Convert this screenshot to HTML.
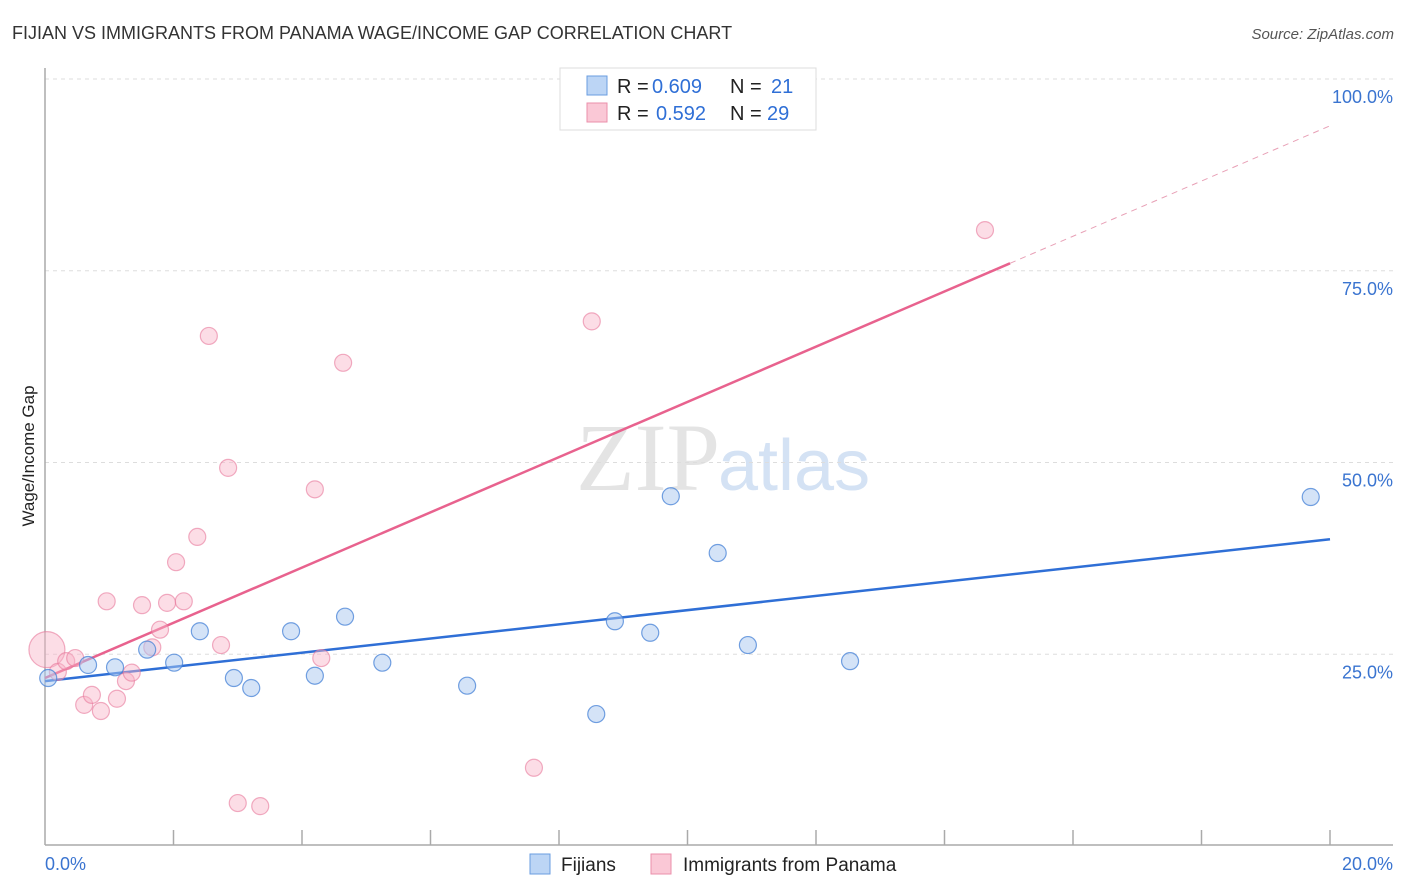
<!DOCTYPE html>
<html><head><meta charset="utf-8"><style>
body{margin:0;background:#fff;font-family:"Liberation Sans",sans-serif}
svg{display:block}
</style></head><body>
<svg id="c" width="1406" height="892" xmlns="http://www.w3.org/2000/svg">
<text x="12" y="39" font-size="18" fill="#333">FIJIAN VS IMMIGRANTS FROM PANAMA WAGE/INCOME GAP CORRELATION CHART</text>
<text x="1394" y="39" font-size="15" fill="#555" text-anchor="end" font-style="italic">Source: ZipAtlas.com</text>
<text x="720" y="490" font-size="96" fill="#e4e4e4" text-anchor="end" font-family="Liberation Serif">ZIP</text>
<text x="718" y="490" font-size="72" fill="#d4e2f4">atlas</text>
<text transform="translate(34,456) rotate(-90)" font-size="17" fill="#222" text-anchor="middle">Wage/Income Gap</text>
<g id="grid"></g><g id="trend"></g><g id="pts"></g>
<g>
<rect x="560" y="68" width="256" height="62" fill="#fff" stroke="#ddd"/>
<rect x="587" y="76" width="20" height="19" fill="#bcd5f5" stroke="#6a9de0"/>
<rect x="587" y="103" width="20" height="19" fill="#fac8d6" stroke="#eb8fab"/>
<text x="617" y="93" font-size="20" fill="#222">R =</text>
<text x="652" y="93" font-size="20" fill="#2f6fd6">0.609</text>
<text x="730" y="93" font-size="20" fill="#222">N =</text>
<text x="771" y="93" font-size="20" fill="#2f6fd6">21</text>
<text x="617" y="120" font-size="20" fill="#222">R =</text>
<text x="656" y="120" font-size="20" fill="#2f6fd6">0.592</text>
<text x="730" y="120" font-size="20" fill="#222">N =</text>
<text x="767" y="120" font-size="20" fill="#2f6fd6">29</text>
</g>
<g>
<rect x="530" y="854" width="20" height="20" fill="#bcd5f5" stroke="#6a9de0"/>
<text x="561" y="871" font-size="19" fill="#222">Fijians</text>
<rect x="651" y="854" width="20" height="20" fill="#fac8d6" stroke="#eb8fab"/>
<text x="683" y="871" font-size="19" fill="#222">Immigrants from Panama</text>
</g>
</svg>
<script>
const blueX=[0.05,0.67,1.09,1.59,2.01,2.41,2.94,3.21,3.83,4.20,4.67,5.25,6.57,8.58,8.87,9.42,9.74,10.47,10.94,12.53,19.70];
const blueY=[21.9,23.6,23.3,25.6,23.9,28.0,21.9,20.6,28.0,22.2,29.9,23.9,20.9,17.2,29.3,27.8,45.6,38.2,26.2,24.1,45.5];
const pinkX=[0.03,0.20,0.33,0.47,0.61,0.73,0.87,0.96,1.12,1.26,1.35,1.51,1.67,1.79,1.90,2.04,2.16,2.37,2.55,2.74,2.85,3.00,3.35,4.20,4.30,4.64,7.61,8.51,14.63];
const pinkY=[25.6,22.7,24.1,24.5,18.4,19.7,17.6,31.9,19.2,21.5,22.6,31.4,25.9,28.2,31.7,37.0,31.9,40.3,66.5,26.2,49.3,5.6,5.2,46.5,24.5,63.0,10.2,68.4,80.3];
const yTicks=[25,50,75,100];
const yTickLabels=["25.0%","50.0%","75.0%","100.0%"];
const blueTrend=[21.5,40.0];
const pinkTrend=[21.9,93.9];
const NS="http://www.w3.org/2000/svg";
const X=v=>45+v/20*1285, Y=v=>846-v*7.67;
function mk(p,t,a){const e=document.createElementNS(NS,t);for(const k in a)e.setAttribute(k,a[k]);p.appendChild(e);return e;}
const grid=document.getElementById('grid'),trend=document.getElementById('trend'),pts=document.getElementById('pts');
yTicks.forEach((t,i)=>{
 const l=mk(grid,'line',{x1:45,x2:1393,y1:Y(t),y2:Y(t),stroke:'#ddd','stroke-dasharray':'4,4'});
 
 
 const tx=mk(grid,'text',{x:1393,y:Y(t)+24,'font-size':18,fill:'#3a74d0','text-anchor':'end'});
 tx.textContent=yTickLabels[i];
 
 
});
mk(grid,'line',{x1:45,x2:45,y1:68,y2:845,stroke:'#aaa','stroke-width':1.5});
mk(grid,'line',{x1:45,x2:1393,y1:845,y2:845,stroke:'#aaa','stroke-width':1.5});
for(let i=1;i<=10;i++){const x=X(i*2);mk(grid,'line',{x1:x,x2:x,y1:830,y2:845,stroke:'#aaa','stroke-width':1.5});}
const xl=mk(grid,'text',{x:45,y:870,'font-size':18,fill:'#3a74d0'});xl.textContent='0.0%';


const xr=mk(grid,'text',{x:1393,y:870,'font-size':18,fill:'#3a74d0','text-anchor':'end'});xr.textContent='20.0%';


const bl=mk(trend,'line',{x1:X(0),y1:Y(blueTrend[0]),x2:X(20),y2:Y(blueTrend[1]),stroke:'#2f6fd6','stroke-width':2.5});


const pm=v=>pinkTrend[0]+(pinkTrend[1]-pinkTrend[0])*v/20;
const ps=mk(trend,'line',{x1:X(0),y1:Y(pm(0)),x2:X(15.02),y2:Y(pm(15.02)),stroke:'#e8628e','stroke-width':2.5});


const pd=mk(trend,'line',{x1:X(15.02),y1:Y(pm(15.02)),x2:X(20),y2:Y(pm(20)),stroke:'#e8a0b6','stroke-width':1,'stroke-dasharray':'6,5'});


pinkX.forEach((x,i)=>{
 const c=mk(pts,'circle',{cx:X(x),cy:Y(pinkY[i]),r:i===0?18:8.5,fill:'rgba(248,180,200,0.45)',stroke:'rgba(232,120,155,0.6)','stroke-width':1.2});
 
 
});
blueX.forEach((x,i)=>{
 const c=mk(pts,'circle',{cx:X(x),cy:Y(blueY[i]),r:8.5,fill:'rgba(170,200,240,0.5)',stroke:'rgba(70,130,215,0.75)','stroke-width':1.2});
 
 
});
</script>
</body></html>
